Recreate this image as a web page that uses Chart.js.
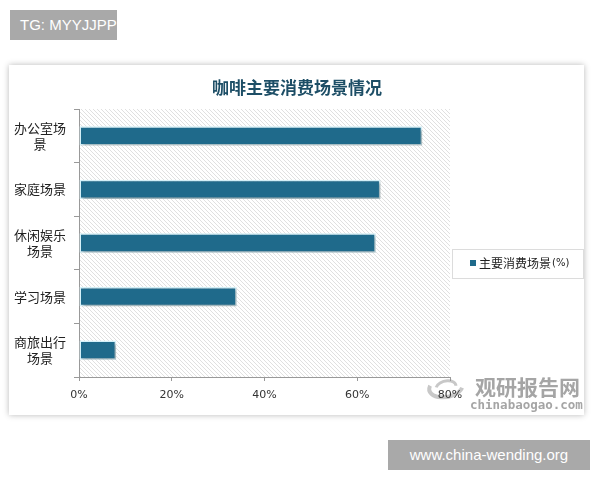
<!DOCTYPE html>
<html>
<head>
<meta charset="utf-8">
<script src="https://cdn.jsdelivr.net/npm/chart.js@4.4.0/dist/chart.umd.min.js"></script>
<style>
body{margin:0;background:#fff;width:600px;height:480px;position:relative;overflow:hidden;font-family:"Liberation Sans",Arial,sans-serif}
.marca{position:absolute;background:#a9a9a9;color:#fff;font-size:15px;line-height:30px;height:30px}
.tarjeta{position:absolute;left:9px;top:65px;width:575px;height:350px;background:#fff;box-shadow:0 0 6px rgba(0,0,0,0.28)}
</style>
</head>
<body>
<div class="marca" style="left:10px;top:10px;width:107px;text-indent:10px">TG: MYYJJPP</div>
<div class="tarjeta"><canvas id="grafico"></canvas></div>
<div class="marca" style="left:388px;top:440px;width:202px;text-align:center">www.china-wending.org</div>
<script>
// datos del grafico
const titulo = '咖啡主要消费场景情况'
const serie = '主要消费场景(%)'
const escenarios = [['办公室场', '景'], '家庭场景', ['休闲娱乐', '场景'], '学习场景', ['商旅出行', '场景']]
const porcentajes = [74, 65, 64, 34, 8]
const ticksX = [0, 20, 40, 60, 80]

const colorBarra = '#1f6a8b'
const fuenteCJK = '"Noto Sans CJK SC", "Noto Sans", sans-serif'

// fondo rayado del area
function rayado(ctx) {
    const c = document.createElement('canvas')
    c.width = 4; c.height = 4
    const g = c.getContext('2d')
    g.fillStyle = '#fff'
    g.fillRect(0, 0, 4, 4)
    g.strokeStyle = '#e0e0e0'
    g.lineWidth = 1
    g.beginPath()
    g.moveTo(-1, -1); g.lineTo(5, 5)
    g.moveTo(-1, 3); g.lineTo(1, 5)
    g.moveTo(3, -1); g.lineTo(5, 1)
    g.stroke()
    return ctx.createPattern(c, 'repeat')
}

const extras = {
    id: 'extras',
    beforeDraw(chart) {
        const ctx = chart.ctx
        const a = chart.chartArea
        ctx.save()
        ctx.fillStyle = rayado(ctx)
        ctx.fillRect(a.left, a.top, a.right - a.left, a.bottom - a.top)
        // logo gris
        ctx.strokeStyle = '#c8c8c8'
        ctx.lineWidth = 4
        ctx.beginPath()
        ctx.ellipse(437, 322, 17, 10, -0.2, 0.4, 3.6)
        ctx.stroke()
        ctx.lineWidth = 3
        ctx.beginPath()
        ctx.ellipse(437, 322, 10, 6, -0.2, 3.4, 6.4)
        ctx.stroke()
        ctx.fillStyle = '#a5a5a5'
        ctx.font = 'bold 21px ' + fuenteCJK
        ctx.textAlign = 'left'
        ctx.textBaseline = 'middle'
        ctx.fillText('观研报告网', 466, 322)
        ctx.font = 'bold 12.5px "DejaVu Sans Mono", monospace'
        ctx.fillText('chinabaogao.com', 461, 341)
        ctx.restore()
    },
    beforeDatasetsDraw(chart) {
        chart.ctx.save()
        chart.ctx.shadowColor = 'rgba(0,0,0,0.3)'
        chart.ctx.shadowBlur = 3
        chart.ctx.shadowOffsetX = 2
        chart.ctx.shadowOffsetY = 2
    },
    afterDatasetsDraw(chart) {
        chart.ctx.restore()
    },
    afterDraw(chart) {
        const ctx = chart.ctx
        ctx.save()
        ctx.fillStyle = '#1d4e66'
        ctx.font = 'bold 17px ' + fuenteCJK
        ctx.textAlign = 'center'
        ctx.textBaseline = 'middle'
        ctx.fillText(titulo, 288, 23)
        // leyenda
        ctx.strokeStyle = '#dcdcdc'
        ctx.lineWidth = 1
        ctx.strokeRect(443.5, 184.5, 131, 29)
        ctx.fillStyle = colorBarra
        ctx.fillRect(461, 195, 6, 6)
        ctx.fillStyle = '#222'
        ctx.textAlign = 'left'
        ctx.font = '12px ' + fuenteCJK
        ctx.fillText('主要消费场景', 470, 198)
        const w = ctx.measureText('主要消费场景').width
        ctx.font = '10px "DejaVu Sans", sans-serif'
        ctx.fillText('(%)', 470 + w + 1, 198)
        ctx.restore()
    }
}

new Chart(document.getElementById('grafico'), {
    type: 'bar',
    data: {
        labels: escenarios,
        datasets: [{
            label: serie,
            data: porcentajes,
            backgroundColor: colorBarra,
            borderColor: '#d6f2fa',
            borderWidth: 1.5,
            borderSkipped: false,
            barPercentage: 0.36,
            categoryPercentage: 1
        }]
    },
    options: {
        indexAxis: 'y',
        responsive: true,
        maintainAspectRatio: false,
        animation: false,
        layout: { padding: { left: 0, top: 44, right: 134, bottom: 0 } },
        plugins: { legend: { display: false }, tooltip: { enabled: false } },
        scales: {
            x: {
                min: 0,
                max: 80,
                afterBuildTicks(s) { s.ticks = ticksX.map(v => ({ value: v })) },
                afterFit(s) { s.height = 38 },
                ticks: {
                    callback: v => v + '%',
                    color: '#333',
                    font: { family: '"DejaVu Sans", sans-serif', size: 11 },
                    padding: 8
                },
                grid: { drawOnChartArea: false, tickLength: 4, color: '#999' },
                border: { color: '#999' }
            },
            y: {
                afterFit(s) { s.width = 70 },
                ticks: {
                    color: '#222',
                    font: { family: fuenteCJK, size: 13, lineHeight: 1.25 },
                    crossAlign: 'center',
                    padding: 8
                },
                grid: { drawOnChartArea: false, offset: true, tickLength: 5, color: '#999' },
                border: { color: '#999' }
            }
        }
    },
    plugins: [extras]
})
</script>
</body>
</html>
